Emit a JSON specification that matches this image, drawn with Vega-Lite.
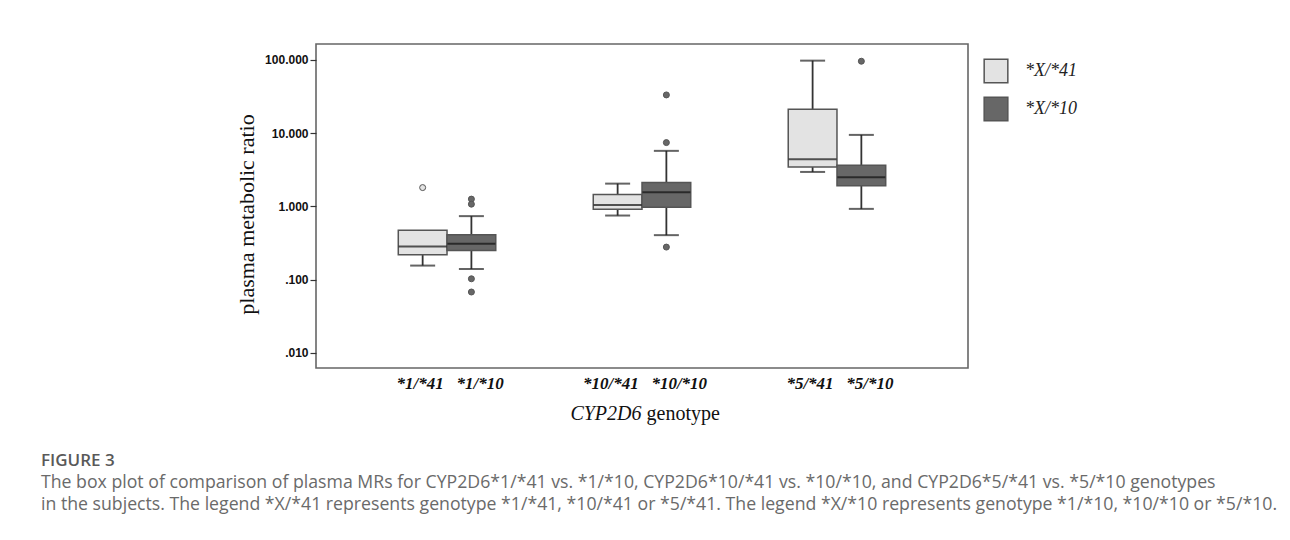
{
  "$schema": "https://vega.github.io/schema/vega-lite/v6.json",
  "autosize": {"type": "none"},
  "width": 652,
  "height": 324,
  "padding": {"left": 316, "top": 44, "right": 322, "bottom": 172},
  "background": "white",
  "datasets": {
    "boxes": [
      {"group": "*1", "series": "*X/*41", "lo": 0.156, "q1": 0.219, "med": 0.284, "q3": 0.475, "hi": null},
      {"group": "*1", "series": "*X/*10", "lo": 0.140, "q1": 0.250, "med": 0.309, "q3": 0.410, "hi": 0.738},
      {"group": "*10", "series": "*X/*41", "lo": 0.752, "q1": 0.918, "med": 1.051, "q3": 1.452, "hi": 2.05},
      {"group": "*10", "series": "*X/*10", "lo": 0.406, "q1": 0.978, "med": 1.567, "q3": 2.12, "hi": 5.74},
      {"group": "*5", "series": "*X/*41", "lo": 2.96, "q1": 3.47, "med": 4.42, "q3": 21.3, "hi": 97.8},
      {"group": "*5", "series": "*X/*10", "lo": 0.927, "q1": 1.91, "med": 2.51, "q3": 3.66, "hi": 9.48}
    ],
    "outliers": [
      {"group": "*1", "series": "*X/*41", "value": 1.81},
      {"group": "*1", "series": "*X/*10", "value": 1.26},
      {"group": "*1", "series": "*X/*10", "value": 1.075},
      {"group": "*1", "series": "*X/*10", "value": 0.103},
      {"group": "*1", "series": "*X/*10", "value": 0.068},
      {"group": "*10", "series": "*X/*10", "value": 33.3},
      {"group": "*10", "series": "*X/*10", "value": 7.44},
      {"group": "*10", "series": "*X/*10", "value": 0.279},
      {"group": "*5", "series": "*X/*10", "value": 96.0}
    ]
  },
  "title": {
    "text": "FIGURE 3",
    "subtitle": [
      "The box plot of comparison of plasma MRs for CYP2D6*1/*41 vs. *1/*10, CYP2D6*10/*41 vs. *10/*10, and CYP2D6*5/*41 vs. *5/*10 genotypes",
      "in the subjects. The legend *X/*41 represents genotype *1/*41, *10/*41 or *5/*41. The legend *X/*10 represents genotype *1/*10, *10/*10 or *5/*10."
    ],
    "orient": "bottom",
    "anchor": "start",
    "frame": "group",
    "dx": -275,
    "offset": 30,
    "font": "Open Sans",
    "fontSize": 17,
    "fontWeight": 600,
    "color": "#595959",
    "subtitleFont": "Open Sans",
    "subtitleFontSize": 17.7,
    "subtitleColor": "#6a6a6a",
    "subtitleLineHeight": 22,
    "subtitlePadding": 4
  },
  "data": {"name": "boxes"},
  "layer": [
    {
      "mark": {"type": "rule", "color": "#333333", "strokeWidth": 1.8},
      "encoding": {
        "x": {
          "field": "group", "type": "nominal",
          "scale": {"domain": ["*1", "*10", "*5"], "paddingInner": 0.5, "paddingOuter": 0.422},
          "axis": {
            "orient": "bottom",
            "title": "genotype",
            "titleFont": "Liberation Serif", "titleFontSize": 20, "titleFontWeight": "normal", "titleColor": "#111111",
            "titleX": 330, "titleY": 45, "titleAlign": "left", "titleBaseline": "middle", "titleAnchor": null,
            "labelExpr": "datum.value + '/*41\u00a0\u00a0\u00a0' + datum.value + '/*10'",
            "labelFont": "Liberation Serif", "labelFontStyle": "italic", "labelFontWeight": "bold", "labelFontSize": 17,
            "labelColor": "#111111", "labelAngle": 0, "labelPadding": 7, "labelOffset": 3,
            "ticks": false, "domain": false, "grid": false
          }
        },
        "xOffset": {"field": "series", "type": "nominal", "scale": {"domain": ["*X/*41", "*X/*10"], "paddingInner": 0, "paddingOuter": 0}},
        "y": {
          "field": "lo", "type": "quantitative", "title": "plasma metabolic ratio",
          "scale": {"type": "log", "domain": [0.00624, 165], "nice": false},
          "axis": {
            "values": [0.01, 0.1, 1, 10, 100],
            "labelExpr": "datum.value < 1 ? slice(format(datum.value, '.3f'), 1) : format(datum.value, '.3f')",
            "labelFont": "Liberation Sans", "labelFontWeight": "bold", "labelFontSize": 12, "labelColor": "#111111",
            "labelPadding": 2, "tickSize": 6, "tickColor": "#333333", "tickWidth": 1.2,
            "domain": false, "grid": false,
            "titleFont": "Liberation Serif", "titleFontSize": 22, "titleFontWeight": "normal", "titleColor": "#111111",
            "titleAngle": 270, "titleX": -70, "titleY": 170, "titleAlign": "center", "titleBaseline": "middle"
          }
        },
        "y2": {"field": "q1"}
      }
    },
    {
      "mark": {"type": "rule", "color": "#333333", "strokeWidth": 1.8},
      "encoding": {
        "x": {
          "field": "group", "type": "nominal",
          "axis": {
            "orient": "bottom",
            "title": "CYP2D6",
            "titleFont": "Liberation Serif", "titleFontSize": 20, "titleFontStyle": "italic", "titleFontWeight": "normal", "titleColor": "#111111",
            "titleX": 325, "titleY": 45, "titleAlign": "right", "titleBaseline": "middle", "titleAnchor": null,
            "labels": false, "ticks": false, "domain": false, "grid": false
          }
        },
        "xOffset": {"field": "series", "type": "nominal"},
        "y": {"field": "q3", "type": "quantitative", "title": "plasma metabolic ratio"},
        "y2": {"field": "hi"}
      }
    },
    {
      "mark": {"type": "bar", "stroke": "#555555", "strokeWidth": 1.5},
      "encoding": {
        "x": {"field": "group", "type": "nominal", "axis": null},
        "xOffset": {"field": "series", "type": "nominal"},
        "y": {"field": "q1", "type": "quantitative", "title": "plasma metabolic ratio"},
        "y2": {"field": "q3"},
        "color": {
          "field": "series", "type": "nominal",
          "scale": {"domain": ["*X/*41", "*X/*10"], "range": ["#e3e3e3", "#676767"]},
          "legend": {
            "title": null, "orient": "none", "legendX": 667, "legendY": 14,
            "symbolType": "square", "symbolSize": 560, "symbolStrokeColor": "#6a6a6a", "symbolStrokeWidth": 1.5,
            "symbolOpacity": 1,
            "labelFont": "Liberation Serif", "labelFontStyle": "italic", "labelFontSize": 18, "labelColor": "#222222",
            "labelOffset": 16, "rowPadding": 8, "padding": 0
          }
        }
      }
    },
    {
      "mark": {"type": "tick", "color": "#111111", "thickness": 2, "size": 48},
      "encoding": {
        "x": {"field": "group", "type": "nominal", "axis": null},
        "xOffset": {"field": "series", "type": "nominal"},
        "y": {"field": "med", "type": "quantitative", "title": "plasma metabolic ratio"}
      }
    },
    {
      "mark": {"type": "tick", "color": "#222222", "thickness": 2, "size": 25},
      "encoding": {
        "x": {"field": "group", "type": "nominal", "axis": null},
        "xOffset": {"field": "series", "type": "nominal"},
        "y": {"field": "lo", "type": "quantitative", "title": "plasma metabolic ratio"}
      }
    },
    {
      "mark": {"type": "tick", "color": "#222222", "thickness": 2, "size": 25},
      "encoding": {
        "x": {"field": "group", "type": "nominal", "axis": null},
        "xOffset": {"field": "series", "type": "nominal"},
        "y": {"field": "hi", "type": "quantitative", "title": "plasma metabolic ratio"}
      }
    },
    {
      "data": {"name": "outliers"},
      "mark": {"type": "point", "filled": true, "stroke": "#555555", "strokeWidth": 1, "size": 36, "opacity": 1},
      "encoding": {
        "x": {"field": "group", "type": "nominal", "axis": null},
        "xOffset": {"field": "series", "type": "nominal"},
        "y": {"field": "value", "type": "quantitative", "title": "plasma metabolic ratio"},
        "color": {"field": "series", "type": "nominal"}
      }
    }
  ],
  "resolve": {"axis": {"x": "independent"}},
  "config": {
    "view": {"stroke": "#666666", "strokeWidth": 1.6},
    "font": "Liberation Sans"
  }
}
